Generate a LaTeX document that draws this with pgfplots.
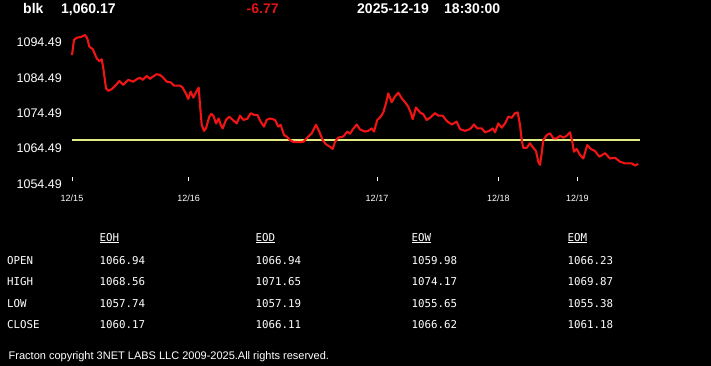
\documentclass[border=0pt]{standalone}
\usepackage{fontspec}
\setmainfont{Liberation Sans}
\newfontfamily\monofont{DejaVu Sans Mono}
\usepackage{pgfplots}
\pgfplotsset{compat=1.18}
\definecolor{linered}{RGB}{240,20,20}
\definecolor{titlered}{RGB}{225,20,20}
\definecolor{refyellow}{RGB}{225,235,130}
\begin{document}
\begin{tikzpicture}
\fill[black] (0pt,0pt) rectangle (711pt,-366pt);
% title
\begin{scope}[every node/.style={anchor=base west, inner sep=0pt, text=white, font=\fontsize{14}{16}\selectfont\bfseries}]
\node at (23pt,-14pt) {blk};
\node at (61pt,-14pt) {1,060.17};
\node[text=titlered] at (246.5pt,-14pt) {-6.77};
\node at (357pt,-14pt) {2025-12-19};
\node at (444pt,-14pt) {18:30:00};
\end{scope}
\begin{axis}[
  at={(72pt,-184pt)}, anchor=south west,
  scale only axis, width=568pt, height=155.76pt,
  xmin=72, xmax=640, ymin=1054.49, ymax=1098.49,
  clip=false,
  axis line style={draw=none},
  ytick={1054.49,1064.49,1074.49,1084.49,1094.49},
  yticklabels={1054.49,1064.49,1074.49,1084.49,1094.49},
  xtick={72,188.7,377,498.3,577.3},
  xticklabels={12/15,12/16,12/17,12/18,12/19},
  xtick pos=lower, ytick pos=left,
  tick align=inside, major tick length=4pt,
  ytick style={draw=none},
  xtick style={draw=white, line width=0.8pt, yshift=3pt},
  yticklabel style={anchor=east, inner sep=0pt, xshift=-10pt, text=white, font=\fontsize{12.5}{14}\selectfont},
  xticklabel style={anchor=north, inner sep=0pt, yshift=-10.3pt, text=white, font=\fontsize{9}{10}\selectfont},
]
\addplot[refyellow, line width=1.6pt] coordinates {(72,1066.9) (640,1066.9)};
\addplot[linered, line width=2.1pt, line join=round] coordinates {
(72,1090.9) (74,1095.2) (76.7,1095.8) (81.7,1096.1) (85,1096.6) (87.3,1095.6)
(89.3,1093.3) (92.7,1092.6) (96.7,1090.0) (99.3,1089.2) (101.7,1089.7) (103.3,1087.2)
(106,1081.5) (108.3,1080.8) (111.7,1081.3) (116.7,1082.7) (119.3,1083.6) (123.3,1082.5)
(128.3,1083.9) (133.3,1083.4) (137.3,1084.2) (140,1084.5) (142.7,1083.9) (146.7,1085.0)
(150,1084.2) (152.7,1084.8) (156.7,1085.5) (160,1085.3) (163.3,1084.5) (166.7,1083.4)
(170.7,1083.2) (174,1082.3) (180,1082.3) (182.7,1081.7) (186.7,1079.6) (188.3,1078.5)
(190.7,1080.6) (193.3,1078.9) (196.7,1080.8) (198.7,1081.7) (200,1076.8) (201.7,1071.2)
(204,1069.5) (206,1070.2) (209.3,1073.5) (211.3,1074.3) (213.3,1073.8) (216,1071.6)
(218.7,1073.0) (220.7,1071.2) (222.7,1070.2) (226,1072.6) (229.3,1073.5) (232.7,1072.6)
(236.7,1071.6) (240,1073.8) (243.3,1072.6) (247.3,1072.9) (250.7,1074.5) (254,1074.0)
(257.3,1074.0) (260.7,1072.1) (264,1070.7) (266.7,1072.6) (270,1073.0) (275,1072.6)
(278.3,1070.7) (280.7,1071.2) (284,1068.3) (286.7,1067.9) (290,1066.9) (293.3,1066.4)
(298.3,1066.3) (303.3,1066.4) (308.3,1067.9) (311.7,1068.8) (316,1071.2) (319.3,1069.3)
(322.7,1066.9) (326,1065.7) (330,1065.0) (332.7,1064.4) (335,1066.4) (338.3,1067.6)
(343.3,1067.9) (347.3,1069.3) (350,1068.7) (353.3,1070.1) (356.7,1071.3) (360,1069.9)
(365,1069.3) (368.3,1069.5) (371.7,1070.2) (374,1069.3) (377.3,1072.6) (380.7,1073.5)
(383.3,1074.7) (386,1077.3) (388.3,1080.1) (391.7,1077.6) (395,1079.2) (398.3,1080.3)
(401.7,1078.7) (405,1077.6) (408.3,1076.3) (410.7,1074.7) (412.7,1072.8) (416,1076.1)
(420,1074.7) (423.3,1074.2) (426.7,1072.6) (430,1073.2) (435,1074.5) (438.3,1073.8)
(442.7,1073.8) (446.7,1072.3) (451.7,1071.3) (456.7,1072.1) (460,1070.0) (465,1069.5)
(470,1070.0) (474,1071.3) (477.3,1070.2) (481.7,1070.2) (485,1069.1) (489.3,1069.5)
(492.7,1070.2) (495,1069.1) (498.3,1071.6) (501.7,1070.4) (505,1071.6) (508.3,1073.5)
(511.7,1073.2) (515,1074.5) (517.7,1074.7) (520,1071.2) (521.7,1066.9) (523.3,1064.7)
(526.7,1064.7) (530,1066.0) (533.3,1064.7) (536,1063.8) (538.3,1060.8) (540,1059.9)
(541.7,1063.2) (543.3,1066.9) (546.7,1068.3) (550,1068.8) (553.3,1067.4) (556.7,1067.4)
(560,1068.1) (563.3,1067.6) (566.7,1068.1) (570,1069.1) (572.3,1066.4) (574,1063.6)
(576.7,1064.4) (580,1062.7) (583.3,1061.7) (587.3,1065.5) (590.7,1064.4) (595,1063.8)
(599.3,1062.2) (605,1063.2) (610,1061.7) (615,1061.9) (620,1060.8) (625,1060.3)
(631.7,1060.3) (635,1059.7) (638.3,1060.17)
};
\end{axis}
% table
\begin{scope}[every node/.style={anchor=base west, inner sep=0pt, text=white, font=\monofont\fontsize{10.8}{12}\selectfont}]
\node (h1) at (99.5pt,-241.3pt) {EOH};
\node (h2) at (255.5pt,-241.3pt) {EOD};
\node (h3) at (411.5pt,-241.3pt) {EOW};
\node (h4) at (567.5pt,-241.3pt) {EOM};
\foreach \h in {h1,h2,h3,h4}{\draw[white, line width=0.8pt] ([yshift=-1.5pt]\h.base west) -- ([yshift=-1.5pt]\h.base east);}
\node at (7pt,-264pt) {OPEN};
\node at (7pt,-285.5pt) {HIGH};
\node at (7pt,-307pt) {LOW};
\node at (7pt,-328.7pt) {CLOSE};
\node at (99.5pt,-264pt) {1066.94};
\node at (99.5pt,-285.5pt) {1068.56};
\node at (99.5pt,-307pt) {1057.74};
\node at (99.5pt,-328.7pt) {1060.17};
\node at (255.5pt,-264pt) {1066.94};
\node at (255.5pt,-285.5pt) {1071.65};
\node at (255.5pt,-307pt) {1057.19};
\node at (255.5pt,-328.7pt) {1066.11};
\node at (411.5pt,-264pt) {1059.98};
\node at (411.5pt,-285.5pt) {1074.17};
\node at (411.5pt,-307pt) {1055.65};
\node at (411.5pt,-328.7pt) {1066.62};
\node at (567.5pt,-264pt) {1066.23};
\node at (567.5pt,-285.5pt) {1069.87};
\node at (567.5pt,-307pt) {1055.38};
\node at (567.5pt,-328.7pt) {1061.18};
\end{scope}
\node[anchor=base west, inner sep=0pt, text=white, font=\fontsize{11}{12}\selectfont] at (8.5pt,-359pt) {Fracton copyright 3NET LABS LLC 2009-2025.All rights reserved.};
\end{tikzpicture}
\end{document}
